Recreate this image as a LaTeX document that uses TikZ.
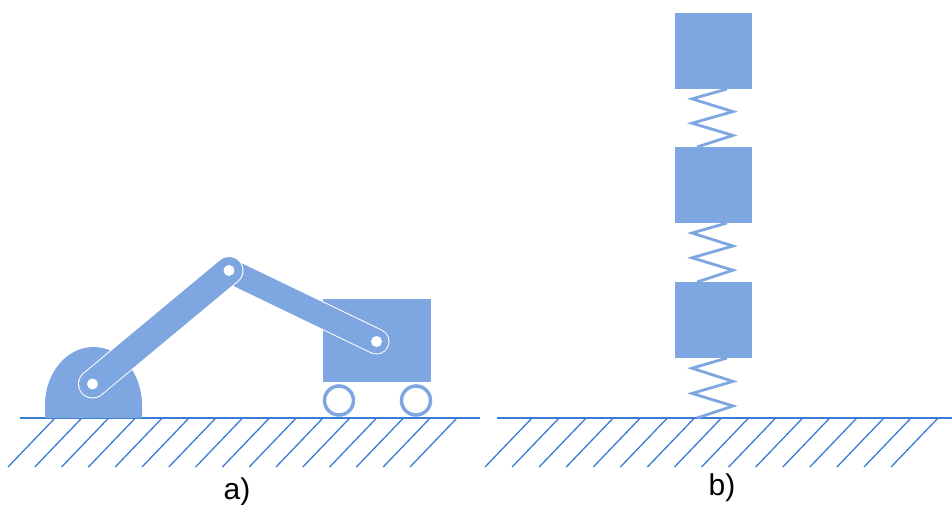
\documentclass[tikz,border=0pt]{standalone}
\usepackage{fontspec}
\setmainfont{Liberation Sans}
\definecolor{partblue}{HTML}{7EA6E0}
\definecolor{groundblue}{HTML}{3A7BD5}
\begin{document}
\begin{tikzpicture}[x=1pt,y=-1pt,
  part/.style={fill=partblue,draw=none},
  groundline/.style={draw=groundblue,line width=2.8pt},
  hatchline/.style={draw=groundblue,line width=1.3pt},
  linkedge/.style={draw=white,line width=#1+2pt,line cap=round},
  linkbody/.style={draw=partblue,line width=#1,line cap=round},
  pin/.style={fill=white,draw=none},
  wheel/.style={draw=partblue,line width=3.5pt,fill=white},
  spring/.style={draw=partblue,line width=2.8pt,line join=miter},
  caption/.style={font=\fontsize{30}{34}\selectfont,anchor=base}]
\useasboundingbox (0,0) rectangle (952,505);

% ---------- a) manipulator on a cart ----------
\coordinate (base) at (92.5,384);
\coordinate (elbow) at (229,270.5);
\coordinate (tip) at (376.5,341.5);

% hatched ground
\foreach \i in {0,...,15}
  \draw[hatchline] (55+26.8*\i,418) -- ++(-47,49);
\draw[groundline] (20,418) coordinate (gl1) -- (480,418) coordinate (gl2);

% fixed base (arch)
\fill[part] (45,418) -- (45,405) arc[start angle=180,end angle=360,x radius=48.5,y radius=58] -- (142,418) -- cycle;

% cart body and wheels
\fill[part] (323,299) rectangle (431,382);
\draw[wheel] (339,400.5) circle (14.5);
\draw[wheel] (416,400.5) circle (14.5);

% second link (elbow to cart)
\draw[linkedge=24pt] (elbow) -- (tip);
\draw[linkbody=24pt] (elbow) -- (tip);
% first link (base to elbow)
\draw[linkedge=27pt] (base) -- (elbow);
\draw[linkbody=27pt] (base) -- (elbow);

% joint pins
\fill[pin] (base) circle (5.5);
\fill[pin] (elbow) circle (5.5);
\fill[pin] (tip) circle (5.5);

\node[caption] (capa) at (237,499) {a)};

% ---------- b) chain of masses and springs ----------
\foreach \i in {0,...,15}
  \draw[hatchline] (532+27.07*\i,418) -- ++(-47,49);
\draw[groundline] (497,418) coordinate (gr1) -- (952,418) coordinate (gr2);

\fill[part] (675,13) rectangle (752,89);
\fill[part] (675,147) rectangle (752,223);
\fill[part] (675,282) rectangle (752,358);

% springs between the masses and to the ground
\foreach \top/\bot in {89/147, 223/282, 358/418}{
  \pgfmathsetmacro{\h}{\bot-\top}
  \draw[spring] (727,\top) -- (692,\top+0.17*\h) -- (733,\top+0.39*\h)
    -- (692,\top+0.59*\h) -- (733,\top+0.80*\h) -- (697,\bot);
}

\node[caption] (capb) at (722,495) {b)};
\end{tikzpicture}
\end{document}
